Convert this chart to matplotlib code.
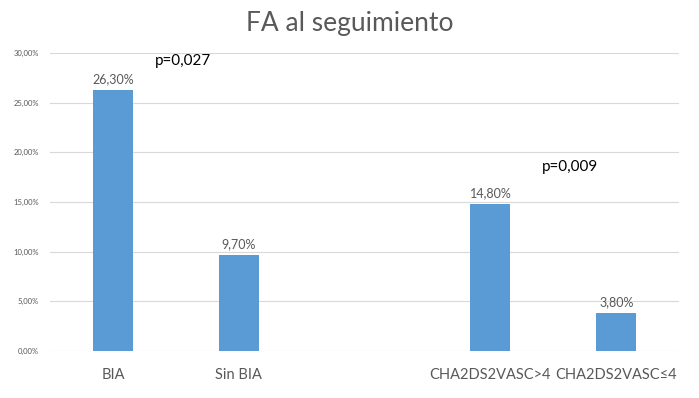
import numpy as np
import matplotlib.pyplot as plt
from matplotlib.ticker import FuncFormatter

plt.rcParams['font.family'] = ['Lato', 'DejaVu Sans']

categories = ['BIA', 'Sin BIA', '', 'CHA2DS2VASC>4', 'CHA2DS2VASC≤4']
values = [26.30, 9.70, np.nan, 14.80, 3.80]
value_labels = ['26,30%', '9,70%', '', '14,80%', '3,80%']
p_texts = ['p=0,027', 'p=0,009']
p_pos = [(0.56, 29.2), (3.63, 18.5)]

gray = '#595959'
fig = plt.figure(figsize=(6.99, 3.98), dpi=100)
ax = fig.add_axes([0.0715, 0.118, 0.9, 0.749])

x = np.arange(len(categories))
bars = ax.bar(x, values, width=0.32, color='#5B9BD5', zorder=3)
for xi, v, lab in zip(x, values, value_labels):
    if lab:
        ax.text(xi, v + 0.5, lab, ha='center', va='bottom', fontsize=9, color=gray)

for t, (px, py) in zip(p_texts, p_pos):
    ax.text(px, py, t, ha='center', va='center', fontsize=11, color='black')

ax.set_xlim(-0.5, 4.5)
ax.set_ylim(0, 30)
ax.set_yticks(np.arange(0, 31, 5))
ax.yaxis.set_major_formatter(FuncFormatter(lambda v, p: f'{v:.2f}%'.replace('.', ',')))
ax.set_xticks(x)
ax.set_xticklabels(categories, fontsize=10.5, color=gray)
ax.tick_params(axis='y', labelsize=5.5, labelcolor=gray, length=0, pad=8)
ax.tick_params(axis='x', length=0, pad=12)
ax.grid(axis='y', color='#d9d9d9', linewidth=0.8, zorder=0)
for s in ax.spines.values():
    s.set_visible(False)

fig.text(0.5, 0.94, 'FA al seguimiento', ha='center', va='center', fontsize=19, color=gray)

fig.savefig('out.png', dpi=100)
